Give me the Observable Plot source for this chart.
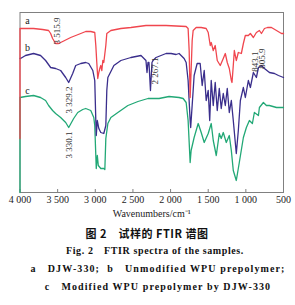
<!DOCTYPE html>
<html>
<head>
<meta charset="utf-8">
<script src="https://cdn.jsdelivr.net/npm/d3@7"></script>
<script src="https://cdn.jsdelivr.net/npm/@observablehq/plot@0.6"></script>
<style>
  body { margin: 0; background: #fff; width: 295px; }
  #cap { margin-top: 6px; font-family: 'Liberation Serif', serif; color: #111; }
  #cap div { line-height: 18px; white-space: pre; }
</style>
</head>
<body>
<div id="chart"></div>
<div id="cap"></div>
<script>
// x tick values and their printed labels
const xTicks = [4000, 3500, 3000, 2500, 2000, 1500, 1000, 500];
const xTickLabels = ["4 000", "3 500", "3 000", "2 500", "2 000", "1 500", "1 000", "500"];

// curve a: DJW-330  [wavenumber, transmittance (arb.)]
const seriesA = [[4000,54],[4000,164],[3927,164],[3820,164],[3700,163],[3620,162],[3593,159],[3567,154],[3527,149],[3487,149],[3433,151],[3327,155],[3193,159],[3127,161],[3060,161],[3007,160],[2993,147],[2980,130],[2967,114],[2953,120],[2940,124],[2927,127],[2913,122],[2900,132],[2887,130],[2860,147],[2847,159],[2793,162],[2660,164],[2527,165],[2327,167],[2060,167],[1793,166],[1767,164],[1753,142],[1740,95],[1727,122],[1713,152],[1700,162],[1660,165],[1593,165],[1527,164],[1500,160],[1473,147],[1460,150],[1433,142],[1407,147],[1380,132],[1340,127],[1300,134],[1273,139],[1247,130],[1220,124],[1193,112],[1184,110],[1167,127],[1153,142],[1127,132],[1100,140],[1060,139],[1033,149],[1007,157],[967,157],[940,159],[900,155],[860,160],[820,162],[793,159],[753,164],[713,165],[660,165],[593,162],[527,159],[500,159]];

// curve b: unmodified WPU prepolymer
const seriesB = [[4000,134],[3993,134],[3927,137],[3820,139],[3727,137],[3660,132],[3593,125],[3527,124],[3460,122],[3393,115],[3353,110],[3300,119],[3260,127],[3193,129],[3127,130],[3087,129],[3033,122],[3007,112],[2993,72],[2987,57],[2973,72],[2953,64],[2927,60],[2887,59],[2860,67],[2847,102],[2833,115],[2753,127],[2660,132],[2527,135],[2393,137],[2327,132],[2313,120],[2300,130],[2287,130],[2267,102],[2247,130],[2233,132],[2193,135],[2127,137],[2060,139],[1993,139],[1927,138],[1887,139],[1860,137],[1820,134],[1793,130],[1767,112],[1740,72],[1733,65],[1700,102],[1687,117],[1647,129],[1607,129],[1580,107],[1553,122],[1527,92],[1500,102],[1480,72],[1460,112],[1433,87],[1407,110],[1380,82],[1353,104],[1327,84],[1300,99],[1273,87],[1247,104],[1220,80],[1193,92],[1167,72],[1127,39],[1100,62],[1073,92],[1033,105],[1007,95],[967,112],[940,105],[900,120],[860,115],[833,125],[793,127],[753,124],[687,120],[620,119],[567,117],[500,115]];

// curve c: modified WPU prepolymer by DJW-330
const seriesC = [[4000,0],[4000,95],[3927,96],[3820,97],[3727,95],[3660,92],[3620,87],[3567,82],[3527,79],[3460,75],[3393,70],[3353,65],[3287,74],[3233,80],[3167,83],[3127,84],[3060,82],[3020,75],[3007,67],[2987,24],[2973,37],[2960,27],[2927,24],[2887,24],[2873,23],[2860,54],[2833,69],[2793,75],[2700,80],[2567,87],[2433,91],[2300,94],[2153,94],[2020,96],[1887,95],[1833,94],[1793,90],[1767,72],[1740,30],[1727,42],[1687,55],[1633,69],[1593,60],[1553,50],[1500,59],[1460,69],[1433,52],[1393,37],[1353,59],[1327,54],[1300,60],[1260,50],[1220,57],[1193,42],[1167,22],[1127,12],[1087,30],[1033,55],[993,65],[953,72],[913,69],[887,80],[833,77],[820,85],[767,90],[727,87],[687,87],[593,85],[500,85]];

// peak annotations
const peakText = ["3 515.9", "3 329.2", "3 330.1", "2 267.1", "843.1", "805.9"];
const peakX = [3515.9, 3329.2, 3330.1, 2267.1, 843.1, 805.9];
const peakY = [148, 106, 61, 135, 141, 144];
const peakAnchor = ["start", "end", "end", "end", "end", "end"];
const peakDx = [1, -1, -1, 5, -2.5, 2];

// curve letters
const curveNames = ["a", "b", "c"];
const curveNameY = [172, 145, 102];

const colors = { a: "#f0464e", b: "#3a2e8c", c: "#22a876" };

const peaks = peakText.map((t, i) => ({ t, x: peakX[i], y: peakY[i], a: peakAnchor[i], dx: peakDx[i] }));
const names = curveNames.map((t, i) => ({ t, y: curveNameY[i] }));

const chart = Plot.plot({
  width: 295,
  height: 218,
  marginLeft: 19.5,
  marginRight: 12,
  marginTop: 12,
  marginBottom: 26,
  style: { fontFamily: "'Liberation Serif', serif", fontSize: "10px", color: "#222", background: "#fff" },
  x: {
    domain: [4000, 500],
    ticks: xTicks,
    tickSize: 0,
    tickPadding: 3,
    tickFormat: d => xTickLabels[xTicks.indexOf(d)],
    label: "Wavenumbers/cm⁻¹",
    labelAnchor: "center",
    labelOffset: 24,
    labelArrow: false
  },
  y: { domain: [0, 180], axis: null },
  marks: [
    Plot.frame({ stroke: "#808080" }),
    Plot.ruleX(xTicks, { x: d => d, y1: 0, y2: 3, stroke: "#808080" }),
    Plot.line(seriesC, { x: d => d[0], y: d => d[1], stroke: colors.c, strokeWidth: 1.3 }),
    Plot.line(seriesB, { x: d => d[0], y: d => d[1], stroke: colors.b, strokeWidth: 1.3 }),
    Plot.line(seriesA, { x: d => d[0], y: d => d[1], stroke: colors.a, strokeWidth: 1.3 }),
    ...peaks.map(p => Plot.text([p], { x: "x", y: "y", text: "t", rotate: -90, textAnchor: p.a, dx: p.dx, fontSize: 9, fill: "#333" })),
    Plot.text(names, { x: 3900, y: "y", text: "t", fontSize: 10, fill: "#222" })
  ]
});
chart.style.display = "block";
document.getElementById("chart").appendChild(chart);

const captionLines = [
  { text: "图 2　试样的 FTIR 谱图", font: "bold 11px 'Noto Sans CJK SC', sans-serif", center: 147, ls: "0.5px" },
  { text: "Fig. 2　FTIR spectra of the samples.", font: "bold 10px 'Liberation Serif', serif", center: 155, ls: "0.6px" },
  { text: "a　DJW-330;  b　Unmodified WPU prepolymer;", font: "bold 10px 'Liberation Serif', serif", center: 158, ls: "1.1px" },
  { text: "c　Modified WPU prepolymer by DJW-330", font: "bold 10px 'Liberation Serif', serif", center: 158, ls: "1.1px" }
];
const cap = document.getElementById("cap");
captionLines.forEach(l => {
  const d = document.createElement("div");
  d.textContent = l.text;
  d.style.font = l.font;
  d.style.lineHeight = "18px";
  d.style.letterSpacing = l.ls;
  d.style.textAlign = "center";
  d.style.width = (2 * l.center) + "px";
  cap.appendChild(d);
});
</script>
</body>
</html>
